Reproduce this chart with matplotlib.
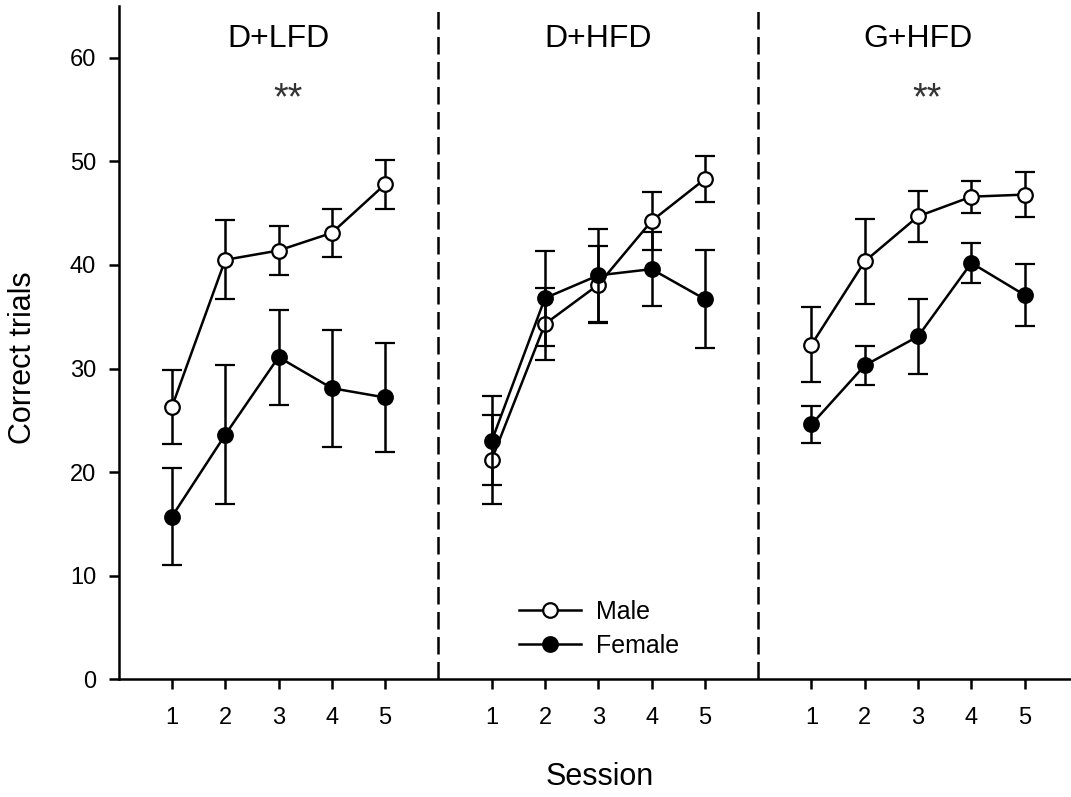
import numpy as np
import matplotlib.pyplot as plt
from matplotlib.lines import Line2D

plt.rcParams['font.family'] = ['Liberation Sans', 'DejaVu Sans']

# Données
groupes  = ["D+LFD", "D+HFD", "G+HFD"]
etoiles  = ["**", "", "**"]
sessions = [1, 2, 3, 4, 5]

male_lfd     = [26.3, 40.5, 41.4, 43.1, 47.8]
male_lfd_err = [3.6, 3.8, 2.4, 2.3, 2.35]
male_hfd     = [21.2, 34.3, 38.1, 44.25, 48.3]
male_hfd_err = [4.3, 3.45, 3.7, 2.8, 2.25]
male_g       = [32.3, 40.35, 44.7, 46.6, 46.8]
male_g_err   = [3.65, 4.1, 2.45, 1.55, 2.15]

fem_lfd     = [15.7, 23.6, 31.1, 28.1, 27.2]
fem_lfd_err = [4.65, 6.7, 4.6, 5.65, 5.3]
fem_hfd     = [23.0, 36.8, 39.0, 39.6, 36.7]
fem_hfd_err = [4.3, 4.6, 4.5, 3.6, 4.75]
fem_g       = [24.6, 30.3, 33.1, 40.2, 37.1]
fem_g_err   = [1.8, 1.9, 3.6, 1.9, 3.0]

males    = [(male_lfd, male_lfd_err), (male_hfd, male_hfd_err), (male_g, male_g_err)]
femelles = [(fem_lfd, fem_lfd_err), (fem_hfd, fem_hfd_err), (fem_g, fem_g_err)]

fig = plt.figure(figsize=(10.71, 7.97), dpi=100)
ax = fig.add_axes([0.1108, 0.148, 0.8892, 0.8442])

lw = 1.8
style = dict(color="black", lw=lw, ms=10.5, mew=1.6, capsize=7.4,
             elinewidth=lw, capthick=lw)

xticks, xlabels = [], []
for i, g in enumerate(groupes):
    x = np.array(sessions) + 6 * i
    m, me = males[i]
    f, fe = femelles[i]
    ax.errorbar(x, m, yerr=me, fmt="o-", mfc="white", mec="black", zorder=3, **style)
    ax.errorbar(x, f, yerr=fe, fmt="o-", mfc="black", mec="black", zorder=4, **style)
    ax.text(3 + 6 * i, 61.8, g, ha="center", va="center", fontsize=23)
    if etoiles[i]:
        ax.text(3.17 + 6 * i, 56.0, etoiles[i], ha="center", va="center",
                fontsize=27, color="#333333")
    xticks += list(x)
    xlabels += [str(s) for s in sessions]

# séparateurs
for xs in [6, 12]:
    ax.axvline(xs, color="black", lw=lw, ls=(0, (7, 3)), zorder=1)

ax.set_xlim(0, 17.87)
ax.set_ylim(0, 65)
ax.set_yticks(np.arange(0, 61, 10))
ax.set_xticks(xticks)
ax.set_xticklabels(xlabels)

for s in ["top", "right"]:
    ax.spines[s].set_visible(False)
for s in ["left", "bottom"]:
    ax.spines[s].set_linewidth(lw)
ax.tick_params(axis="both", direction="out", length=7.2, width=lw, labelsize=17)
ax.tick_params(axis="y", pad=9)
ax.tick_params(axis="x", pad=13)

ax.set_xlabel("Session", fontsize=22)
ax.set_ylabel("Correct trials", fontsize=22)
ax.xaxis.set_label_coords(0.505, -0.123)
ax.yaxis.set_label_coords(-0.085, 0.477)

poignees = [
    Line2D([], [], color="black", lw=lw, marker="o", ms=10.5, mew=1.6,
           mfc="white", mec="black"),
    Line2D([], [], color="black", lw=lw, marker="o", ms=10.5, mew=1.6,
           mfc="black", mec="black"),
]
ax.legend(poignees, ["Male", "Female"], loc="upper left",
          bbox_to_anchor=(0.42, 0.118), frameon=False, fontsize=18,
          numpoints=1, handlelength=2.5, handletextpad=0.6,
          labelspacing=0.4, borderpad=0, borderaxespad=0)

fig.savefig("out.png", dpi=100)
